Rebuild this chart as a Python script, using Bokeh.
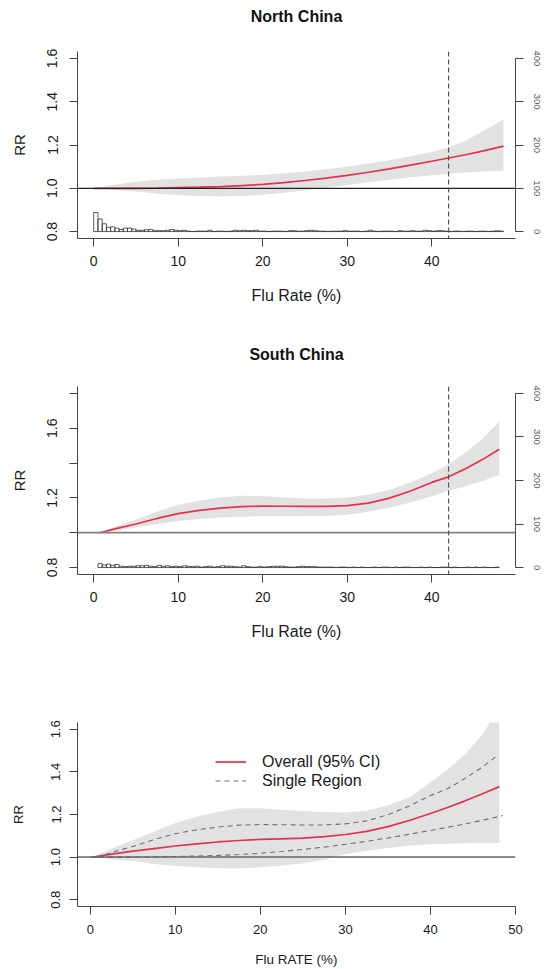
import numpy as np
from bokeh.plotting import figure
from bokeh.models import (Range1d, LinearAxis, FixedTicker, Span, Legend, LegendItem, Title,
                          NumeralTickFormatter)
from bokeh.layouts import column
from bokeh.embed import file_html
from bokeh.resources import INLINE

# ---------------- data ----------------
north_x = [0, 2.5, 5, 7.5, 10, 12.5, 15, 17.5, 20, 22.5, 25, 27.5, 30, 32.5, 35, 37.5, 40, 42, 44, 46, 48.5]
north_rr = [1.000, 1.000, 1.000, 1.001, 1.003, 1.005, 1.008, 1.012, 1.018, 1.026, 1.036, 1.047, 1.060, 1.074,
            1.090, 1.107, 1.125, 1.140, 1.155, 1.172, 1.195]
north_hi = [1.000, 1.016, 1.030, 1.039, 1.045, 1.050, 1.055, 1.058, 1.062, 1.069, 1.078, 1.088, 1.100, 1.114,
            1.130, 1.148, 1.168, 1.189, 1.220, 1.262, 1.318]
north_lo = [1.000, 0.993, 0.985, 0.976, 0.968, 0.964, 0.962, 0.964, 0.970, 0.979, 0.990, 1.002, 1.015, 1.028,
            1.040, 1.051, 1.060, 1.067, 1.073, 1.078, 1.081]

south_x = [0.74, 2.5, 5, 7.5, 10, 12.5, 15, 17.5, 20, 22.5, 25, 27.5, 30, 32.5, 35, 37.5, 40, 42, 44, 46, 48]
south_rr = [1.000, 1.022, 1.050, 1.082, 1.110, 1.128, 1.141, 1.150, 1.153, 1.152, 1.151, 1.151, 1.156, 1.170,
            1.199, 1.240, 1.289, 1.321, 1.368, 1.420, 1.480]
south_hi = [1.000, 1.035, 1.075, 1.120, 1.159, 1.185, 1.202, 1.212, 1.210, 1.204, 1.197, 1.197, 1.202, 1.218,
            1.245, 1.290, 1.340, 1.394, 1.460, 1.540, 1.639]
south_lo = [1.000, 1.012, 1.030, 1.050, 1.068, 1.079, 1.087, 1.092, 1.095, 1.095, 1.095, 1.098, 1.103, 1.120,
            1.145, 1.173, 1.210, 1.241, 1.267, 1.297, 1.333]

overall_x = [0.33, 2.5, 5, 7.5, 10, 12.5, 15, 17.5, 20, 22.5, 25, 27.5, 30, 32.5, 35, 37.5, 40, 42, 44, 46, 48.1]
overall_rr = [1.000, 1.014, 1.028, 1.040, 1.052, 1.062, 1.071, 1.078, 1.083, 1.086, 1.089, 1.096, 1.106, 1.121,
              1.143, 1.172, 1.205, 1.233, 1.263, 1.295, 1.331]
overall_hi = [1.000, 1.040, 1.079, 1.120, 1.160, 1.190, 1.212, 1.229, 1.229, 1.222, 1.216, 1.211, 1.209, 1.218,
              1.243, 1.280, 1.350, 1.410, 1.480, 1.570, 1.700]
overall_lo = [1.000, 0.990, 0.982, 0.968, 0.958, 0.952, 0.948, 0.947, 0.952, 0.961, 0.971, 0.988, 1.014, 1.030,
              1.043, 1.053, 1.060, 1.063, 1.065, 1.066, 1.066]

bin_width = 0.5
north_bin_start = 0.0
north_counts = [44, 29, 18, 10, 11, 8, 5, 8, 8, 6,
                3, 3, 4, 5, 2, 2, 2, 3, 5, 3,
                2, 3, 1, 0, 1, 1, 1, 3, 0, 1,
                1, 0, 1, 3, 2, 3, 2, 2, 3, 1,
                1, 0, 1, 1, 1, 0, 2, 2, 1, 1,
                2, 3, 2, 1, 1, 0, 1, 1, 1, 2,
                1, 1, 1, 0, 1, 3, 1, 0, 1, 1,
                1, 0, 2, 1, 1, 2, 1, 1, 3, 2,
                1, 2, 2, 1, 0, 1, 1, 0, 1, 1,
                0, 1, 1, 0, 1, 2, 1]
south_bin_start = 0.5
south_counts = [9, 6, 8, 5, 7, 3, 2, 3, 3, 4,
                4, 5, 3, 2, 5, 3, 4, 2, 3, 2,
                4, 3, 2, 3, 1, 2, 3, 1, 2, 4,
                3, 3, 2, 1, 4, 2, 1, 1, 2, 1,
                2, 3, 3, 3, 2, 1, 1, 2, 3, 2,
                2, 2, 1, 1, 1, 1, 0, 1, 1, 0,
                1, 0, 1, 0, 0, 1, 0, 1, 1, 0,
                1, 0, 1, 1, 0, 0, 1, 0, 1, 0,
                0, 1, 1, 0, 1, 0, 0, 1, 0, 1,
                0, 1, 0, 0, 1]

threshold = 42
count_ticks = [0, 100, 200, 300, 400]
x_ticks_region = [0, 10, 20, 30, 40]
x_ticks_overall = [0, 10, 20, 30, 40, 50]

# ---------------- style ----------------
FONT = "Liberation Sans"
RED = "#e3324b"
BAND = "#e2e2e2"
AXC = "#444444"
TXT = "#1a1a1a"
W = 545


def style_axis(ax, tick_size, label_size, lab_standoff, axlab_standoff, vertical=False):
    ax.axis_line_color = AXC
    ax.axis_line_width = 1
    ax.major_tick_line_color = AXC
    ax.major_tick_in = 0
    ax.major_tick_out = 8
    ax.minor_tick_line_color = None
    ax.major_label_text_font = FONT
    ax.major_label_text_font_size = tick_size
    ax.major_label_text_color = TXT
    ax.major_label_standoff = lab_standoff
    ax.axis_label_text_font = FONT
    ax.axis_label_text_font_size = label_size
    ax.axis_label_text_font_style = "normal"
    ax.axis_label_text_color = TXT
    ax.axis_label_standoff = axlab_standoff
    if vertical:
        ax.major_label_orientation = "vertical"


def base_fig(height, top, bottom, yr, xr, title=None, spacer_size="4px"):
    p = figure(width=W, height=height, output_backend="svg", toolbar_location=None,
               x_range=Range1d(*xr), y_range=Range1d(*yr),
               min_border_left=77, min_border_right=30, min_border_top=top, min_border_bottom=bottom,
               outline_line_color=None, background_fill_color="white", border_fill_color="white")
    p.xgrid.visible = False
    p.ygrid.visible = False
    if title:
        p.add_layout(Title(text=" ", text_font=FONT, text_font_size=spacer_size), "above")
        t = Title(text=title, align="center", text_font=FONT, text_font_size="16px",
                  text_font_style="bold", text_color="#111111")
        p.add_layout(t, "above")
    return p


def region_panel(title, height, top, bottom, yr, yticks, yoverrides, x, rr, lo, hi,
                 bin_start, counts, spacer_size, hline_color, hline_width):
    p = base_fig(height, top, bottom, yr, (-1.92, 49.92), title, spacer_size)
    p.extra_y_ranges = {"count": Range1d(-16, 416)}
    p.varea(x=x, y1=lo, y2=hi, fill_color=BAND, fill_alpha=1.0)
    edges = bin_start + bin_width * np.arange(len(counts) + 1)
    p.quad(left=edges[:-1], right=edges[1:], bottom=0, top=counts, y_range_name="count",
           fill_color="white", fill_alpha=0.0, line_color="#333333", line_width=0.8)
    p.add_layout(Span(location=1.0, dimension="width", line_color=hline_color, line_width=hline_width))
    p.line(x=x, y=rr, line_color=RED, line_width=1.7)
    p.add_layout(Span(location=threshold, dimension="height", line_color="#555555",
                      line_width=1.2, line_dash="5 3"))

    p.xaxis.ticker = FixedTicker(ticks=x_ticks_region)
    p.xaxis.axis_label = "Flu Rate (%)"
    style_axis(p.xaxis[0], "14px", "16px", 9, 18)

    p.yaxis.ticker = FixedTicker(ticks=yticks)
    p.yaxis.formatter = NumeralTickFormatter(format="0.0")
    p.yaxis.major_label_overrides = yoverrides
    p.yaxis.axis_label = "RR"
    style_axis(p.yaxis[0], "14px", "15px", 12, 17, vertical=True)

    rax = LinearAxis(y_range_name="count", bounds=(0, 400), ticker=FixedTicker(ticks=count_ticks))
    style_axis(rax, "9.5px", "9px", 10, 0, vertical=True)
    rax.major_label_text_color = "#555555"
    p.add_layout(rax, "right")
    return p


p1 = region_panel("North China", 318, 50, 80, (0.768, 1.632), [0.8, 1.0, 1.2, 1.4, 1.6], {},
                  north_x, north_rr, north_lo, north_hi, north_bin_start, north_counts, "8.5px",
                  "#222222", 1.2)

p2 = region_panel("South China", 342, 68, 86, (0.76, 1.84), [0.8, 1.0, 1.2, 1.4, 1.6, 1.8],
                  {1.0: "", 1.4: "", 1.8: ""},
                  south_x, south_rr, south_lo, south_hi, south_bin_start, south_counts, "7px",
                  "#808080", 1.8)

# ---------------- overall panel ----------------
p3 = base_fig(309, 62, 60, (0.768, 1.632), (-1.5, 50.0))
p3.varea(x=overall_x, y1=overall_lo, y2=overall_hi, fill_color=BAND, fill_alpha=1.0)
p3.add_layout(Span(location=1.0, dimension="width", line_color="#666666", line_width=1.5))
r_n = p3.line(x=north_x, y=north_rr, line_color="#6e6e6e", line_width=1.1, line_dash="5 4")
r_s = p3.line(x=south_x, y=south_rr, line_color="#6e6e6e", line_width=1.1, line_dash="5 4")
r_o = p3.line(x=overall_x, y=overall_rr, line_color=RED, line_width=1.7)

p3.xaxis.ticker = FixedTicker(ticks=x_ticks_overall)
p3.xaxis.axis_label = "Flu RATE (%)"
style_axis(p3.xaxis[0], "13px", "13.5px", 10, 15)
p3.yaxis.ticker = FixedTicker(ticks=[0.8, 1.0, 1.2, 1.4, 1.6])
p3.yaxis.formatter = NumeralTickFormatter(format="0.0")
p3.yaxis.axis_label = "RR"
style_axis(p3.yaxis[0], "13px", "13px", 9, 23, vertical=True)

legend = Legend(items=[LegendItem(label="Overall (95% CI)", renderers=[r_o]),
                       LegendItem(label="Single Region", renderers=[r_n])],
                location=(138, 116), padding=4, spacing=0, glyph_width=31, glyph_height=19,
                label_height=19, label_standoff=16, border_line_color=None,
                background_fill_alpha=0.0, label_text_font=FONT, label_text_font_size="16px",
                label_text_color=TXT, margin=0)
p3.add_layout(legend, "center")

layout = column(p1, p2, p3, spacing=0)
open("out.html", "w").write(file_html(layout, INLINE))
